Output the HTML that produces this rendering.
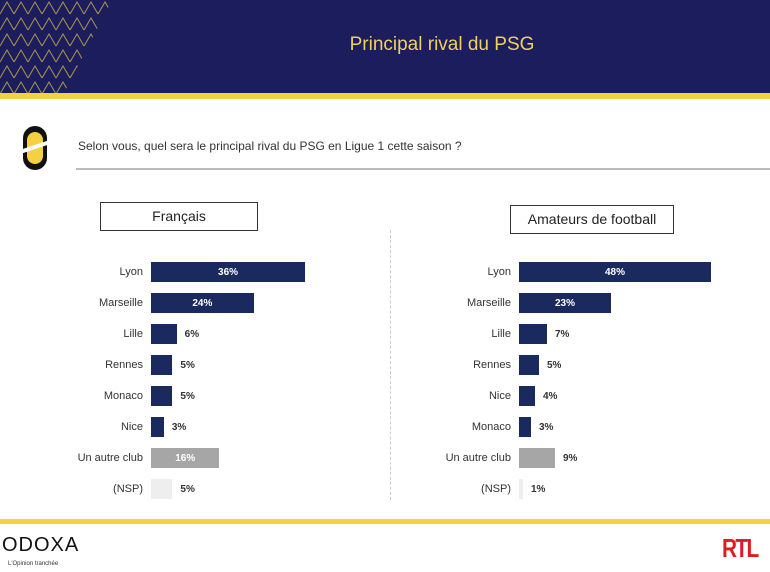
<!DOCTYPE html>
<html><head><meta charset="utf-8"><style>
body{margin:0;width:770px;height:572px;overflow:hidden;background:#fff;font-family:"Liberation Sans",sans-serif;position:relative}
.a{position:absolute}
.lab{position:absolute;font-size:11px;color:#333;text-align:right;width:120px}
.bar{position:absolute;height:20px}
.val{position:absolute;font-size:10px;font-weight:bold;color:#333}
</style></head><body>
<div class="a" style="left:0;top:0;width:770px;height:93px;background:#1b1d5c"></div>
<svg class="a" style="left:0;top:0" width="115" height="93">
<defs><clipPath id="cp"><polygon points="0,0 112,0 64,93 0,93"/></clipPath>
<pattern id="p" width="14" height="16" patternUnits="userSpaceOnUse"><path d="M0 14 L7 2 L14 14" stroke="#c9a94a" stroke-width="1" fill="none"/></pattern></defs>
<rect width="115" height="93" fill="url(#p)" clip-path="url(#cp)" opacity="0.85"/>
</svg>
<div class="a" style="left:0;top:34px;width:884px;text-align:center;color:#f0d060;font-size:19px">Principal rival du PSG</div>
<div class="a" style="left:0;top:93px;width:770px;height:6px;background:#f5d142"></div>
<svg class="a" style="left:20px;top:122px" width="30" height="52"><rect x="3" y="4" width="24" height="44" rx="12" fill="#111"/><rect x="7" y="10" width="16" height="32" rx="8" fill="#f5d142"/><line x1="0" y1="30" x2="30" y2="20" stroke="#fff" stroke-width="4"/></svg>
<div class="a" style="left:78px;top:139px;font-size:12px;color:#333">Selon vous, quel sera le principal rival du PSG en Ligue 1 cette saison ?</div>
<div class="a" style="left:76px;top:168px;width:694px;height:2px;background:#bbb"></div>
<div class="a" style="left:390px;top:230px;height:270px;border-left:1px dashed #ccc"></div>
<div class="a" style="left:100px;top:202px;width:156px;height:27px;border:1px solid #333;text-align:center;font-size:14px;line-height:27px;color:#222">Français</div>
<div class="a" style="left:510px;top:205px;width:162px;height:27px;border:1px solid #333;text-align:center;font-size:14px;line-height:27px;color:#222">Amateurs de football</div>
<div id="c"></div>
<div class="a" style="left:0;top:519px;width:770px;height:5px;background:#f5d142"></div>
<div class="a" style="left:2px;top:534px;font-size:20px;letter-spacing:1px;color:#111">ODOXA</div>
<div class="a" style="left:8px;top:561px;font-size:6px;color:#333">L'Opinion tranchée</div>
<div class="a" style="left:722px;top:533px;font-size:26px;font-weight:bold;color:#e01b22;letter-spacing:-2px;transform:scaleX(0.8);transform-origin:left">RTL</div>
<script>
var L=[["Lyon",36],["Marseille",24],["Lille",6],["Rennes",5],["Monaco",5],["Nice",3],["Un autre club",16],["(NSP)",5]];
var R=[["Lyon",48],["Marseille",23],["Lille",7],["Rennes",5],["Nice",4],["Monaco",3],["Un autre club",9],["(NSP)",1]];
var h="";
function draw(d,x0,s){d.forEach(function(r,i){var y=262+i*31;var c=i<6?"#1b2a5e":(i==6?"#a6a6a6":"#eeeeee");var w=r[1]*s;
h+='<div class="lab" style="left:'+(x0-128)+'px;top:'+(y+4)+'px">'+r[0]+'</div>';
h+='<div class="bar" style="left:'+x0+'px;top:'+y+'px;width:'+w+'px;background:'+c+'"></div>';
var inside=w>40&&i<7;
h+='<div class="val" style="top:'+(y+5)+'px;'+(inside?'left:'+x0+'px;width:'+w+'px;text-align:center;color:#fff':'left:'+(x0+w+8)+'px')+'">'+r[1]+'%</div>';});}
draw(L,151,4.28);draw(R,519,4);
document.getElementById("c").innerHTML=h;
</script>
</body></html>
